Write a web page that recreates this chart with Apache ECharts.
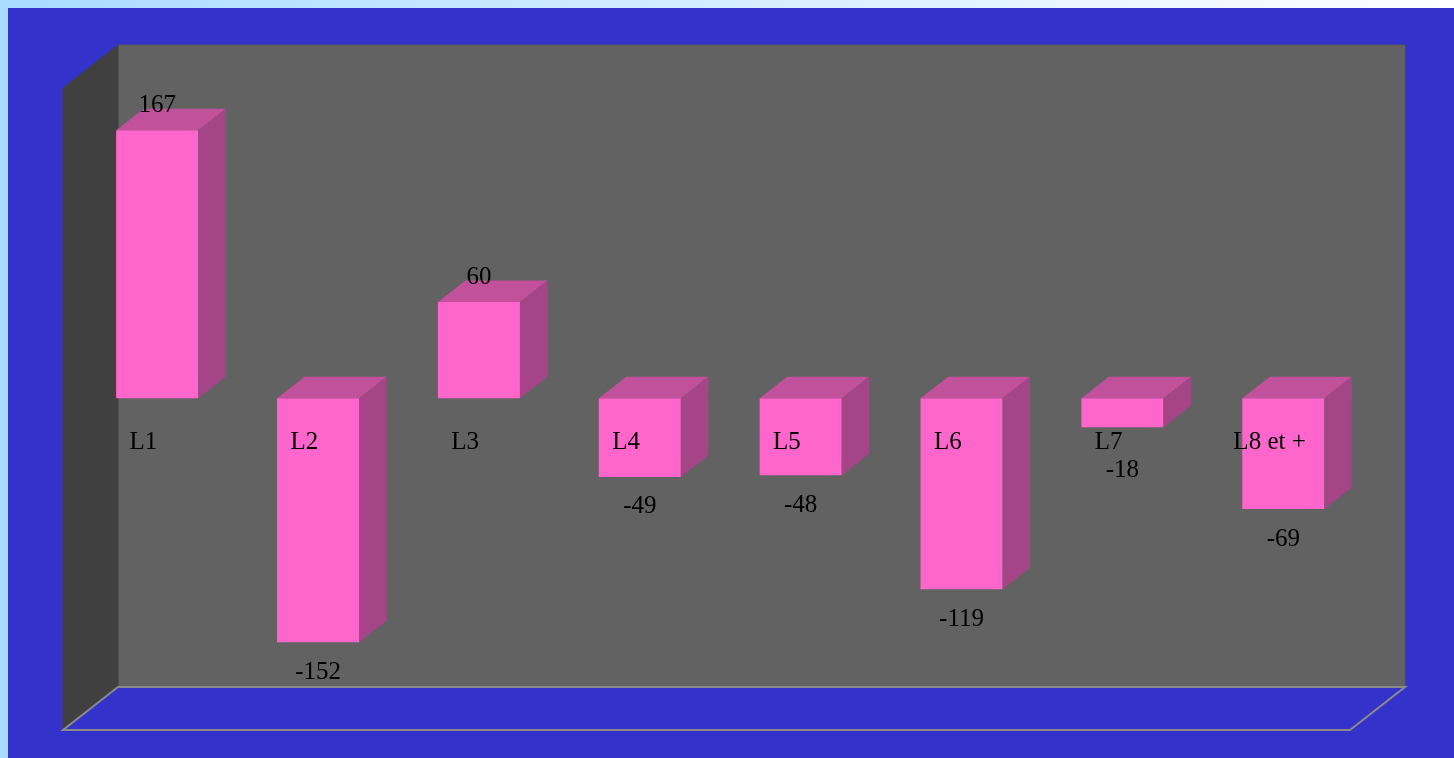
<!DOCTYPE html>
<html>
<head>
<meta charset="utf-8">
<script src="https://cdn.jsdelivr.net/npm/echarts@6/dist/echarts.min.js"></script>
<style>
  html, body { margin: 0; padding: 0; width: 1454px; height: 758px; overflow: hidden; }
  body { background: linear-gradient(to right, #a9dbff, #ffffff); }
  #chart { position: absolute; left: 8px; top: 8px; width: 1446px; height: 750px; background: #3333cc; }
</style>
</head>
<body>
<div id="chart"></div>
<script>
var categories = ['L1', 'L2', 'L3', 'L4', 'L5', 'L6', 'L7', 'L8 et +'];
var values = [167, -152, 60, -49, -48, -119, -18, -69];
var yMin = -200, yMax = 200;

var DEPTH = [55, -43];
var BAR_RATIO = 0.51;
var FONT = '25px "Liberation Serif", "Times New Roman", serif';

var chart = echarts.init(document.getElementById('chart'), null, { renderer: 'canvas' });

function renderWalls(params, api) {
  var c = params.coordSys;
  var x = c.x, y = c.y, w = c.width, h = c.height;
  var dx = DEPTH[0], dy = DEPTH[1];
  return {
    type: 'group',
    children: [
      { type: 'rect', shape: { x: x + dx, y: y + dy, width: w, height: h },
        style: { fill: '#626262', stroke: '#585858', lineWidth: 1 } },
      { type: 'polygon', shape: { points: [[x, y], [x + dx, y + dy], [x + dx, y + h + dy], [x, y + h]] },
        style: { fill: '#404040', stroke: '#404040', lineWidth: 1 } },
      { type: 'polygon', shape: { points: [[x, y + h], [x + dx, y + h + dy], [x + w + dx, y + h + dy], [x + w, y + h]] },
        style: { fill: '#3333cc', stroke: '#8a8a8a', lineWidth: 2 } }
    ]
  };
}

function renderBar(params, api) {
  var i = api.value(0), v = api.value(1);
  var p0 = api.coord([i, 0]);
  var p1 = api.coord([i, v]);
  var w = api.size([1, 0])[0] * BAR_RATIO;
  var fx = DEPTH[0] * 0.25, fy = DEPTH[1] * 0.25;
  var bx = DEPTH[0] * 0.5, by = DEPTH[1] * 0.5;
  var left = p0[0] - w / 2 + fx, right = left + w;
  var top = Math.min(p0[1], p1[1]) + fy, bot = Math.max(p0[1], p1[1]) + fy;
  var zeroY = p0[1] + fy;
  var cx = (left + right) / 2;
  var catY = zeroY + 44;
  var valY = v >= 0 ? top - 25 : Math.max(bot + 30, catY + 28);
  return {
    type: 'group',
    children: [
      { type: 'rect', shape: { x: left, y: top, width: w, height: bot - top },
        style: { fill: '#ff66cc' } },
      { type: 'polygon', shape: { points: [[left, top], [right, top], [right + bx, top + by], [left + bx, top + by]] },
        style: { fill: '#c2519b' } },
      { type: 'polygon', shape: { points: [[right, top], [right + bx, top + by], [right + bx, bot + by], [right, bot]] },
        style: { fill: '#a54588' } },
      { type: 'text', style: { text: categories[i], x: p0[0], y: catY, textAlign: 'center', textVerticalAlign: 'middle', font: FONT, fill: '#000' } },
      { type: 'text', style: { text: String(v), x: cx, y: valY, textAlign: 'center', textVerticalAlign: 'middle', font: FONT, fill: '#000' } }
    ]
  };
}

var barData = values.map(function (v, i) { return [i, v]; });

chart.setOption({
  animation: false,
  grid: { left: 55, top: 80, width: 1287, height: 642, containLabel: false },
  xAxis: { type: 'category', data: categories, show: false, boundaryGap: true },
  yAxis: { type: 'value', min: yMin, max: yMax, show: false },
  series: [
    { type: 'custom', renderItem: renderWalls, data: [[0, 0]], clip: false, silent: true, z: 1 },
    { type: 'custom', renderItem: renderBar, data: barData, clip: false, silent: true, z: 2 }
  ]
});
</script>
</body>
</html>
